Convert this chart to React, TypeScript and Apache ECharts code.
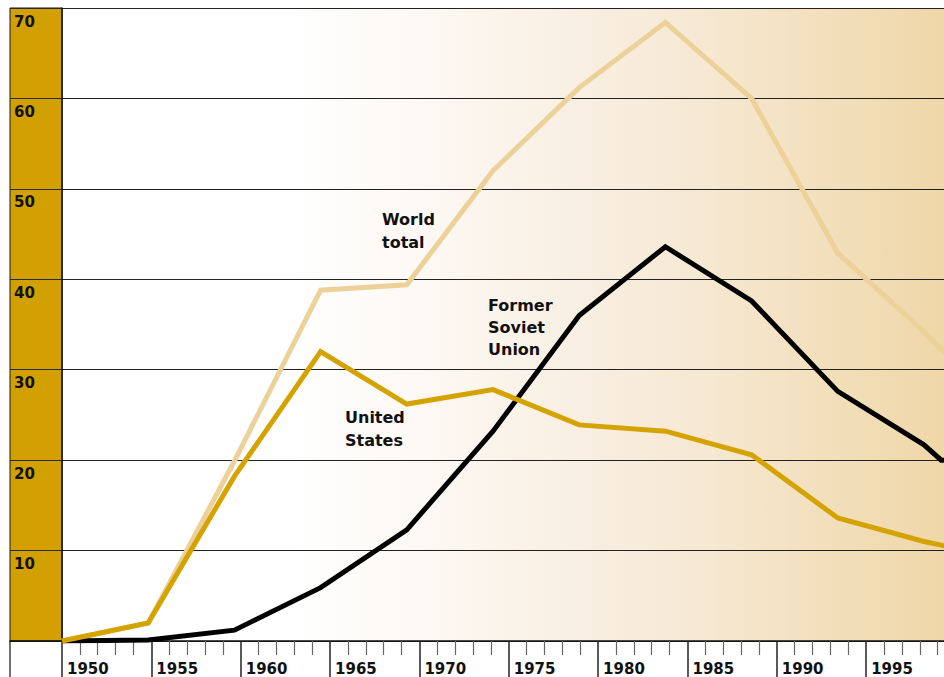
import React, { useEffect, useRef } from 'react';
import * as echarts from 'echarts';

// Data
const dataYears = [1950, 1955, 1960, 1965, 1970, 1975, 1980, 1985, 1990, 1995, 2000, 2001, 2002];
const worldTotal = [0, 2.0, 19.9, 38.8, 39.4, 52.0, 61.2, 68.4, 60.0, 42.9, 34.2, 32.2, 30.8];
const unitedStates = [0, 2.0, 18.2, 32.0, 26.2, 27.8, 23.9, 23.2, 20.6, 13.6, 11.0, 10.6, 10.2];
const formerSovietUnion = [0, 0.1, 1.2, 5.9, 12.3, 23.2, 36.0, 43.6, 37.6, 27.6, 21.7, 20.0, 20.0];
const seriesNames = ['World total', 'United States', 'Former Soviet Union'];
const seriesLabels = ['World\ntotal', 'United\nStates', 'Former\nSoviet\nUnion'];
const yMin = 0;
const yMax = 70;
const yStep = 10;
const tickYearMin = 1950;
const tickYearMax = 2000;
const tickYearStep = 5;

const FONT = '"DejaVu Sans", "Noto Sans", sans-serif';

function pairs(values: number[]) {
  return dataYears.map((y, i) => [y, values[i]]);
}

export default function App() {
  const ref = useRef<HTMLDivElement>(null);
  useEffect(() => {
    if (!ref.current) return;
    const chart = echarts.init(ref.current, undefined, { renderer: 'svg' });
    const mainWidth = 893.5;
    const dataMax = 1950 + (50 * mainWidth) / 862;
    const option: any = {
      animation: false,
      backgroundColor: '#ffffff',
      grid: [
        {
          left: 62,
          top: 8,
          bottom: 36,
          width: mainWidth,
          show: true,
          borderWidth: 0,
          outerBoundsMode: 'none',
          containLabel: false,
          backgroundColor: new echarts.graphic.LinearGradient(0, 0, 1, 0, [
            { offset: 0, color: '#ffffff' },
            { offset: 0.26, color: '#ffffff' },
            { offset: 0.45, color: '#fcf6ef' },
            { offset: 0.6, color: '#f8eee0' },
            { offset: 0.72, color: '#f6e8d2' },
            { offset: 0.86, color: '#f2dfbb' },
            { offset: 1, color: '#efd6a6' },
          ]),
        },
        {
          left: 10,
          top: 8,
          bottom: 36,
          width: 52,
          show: true,
          outerBoundsMode: 'none',
          containLabel: false,
          backgroundColor: '#d2a000',
          borderColor: '#1a1a1a',
          borderWidth: 1,
        },
      ],
      xAxis: [
        {
          type: 'value',
          gridIndex: 0,
          min: tickYearMin,
          max: tickYearMax,
          interval: tickYearStep,
          axisLine: { show: true, lineStyle: { color: '#111', width: 1.5 } },
          axisTick: { show: true, length: 36, lineStyle: { color: '#222', width: 1.5 } },
          minorTick: { show: true, splitNumber: 5, length: 14, lineStyle: { color: '#666', width: 1.2 } },
          splitLine: { show: false },
          minorSplitLine: { show: false },
          axisLabel: {
            margin: 20,
            align: 'left',
            verticalAlign: 'top',
            padding: [0, 0, 0, 5],
            fontSize: 15,
            fontWeight: 'bold',
            fontFamily: FONT,
            color: '#111',
            showMaxLabel: false,
            formatter: (v: number) => String(v),
          },
        },
        {
          type: 'value',
          gridIndex: 0,
          min: 1950,
          max: dataMax,
          show: false,
        },
        {
          type: 'value',
          gridIndex: 1,
          min: 0,
          max: 1,
          axisLine: { show: true, lineStyle: { color: '#111', width: 1.5 } },
          axisTick: { show: false },
          axisLabel: { show: false },
          splitLine: { show: false },
        },
      ],
      yAxis: [
        {
          type: 'value',
          gridIndex: 0,
          min: yMin,
          max: yMax,
          interval: yStep,
          axisLine: { show: true, lineStyle: { color: '#111', width: 1.5 } },
          axisTick: { show: false },
          axisLabel: { show: false },
          splitLine: { show: true, lineStyle: { color: '#222', width: 1 } },
        },
        {
          type: 'value',
          gridIndex: 1,
          min: yMin,
          max: yMax,
          interval: yStep,
          axisLine: { show: false },
          axisTick: { show: false },
          splitLine: { show: true, lineStyle: { color: '#2a2a2a', width: 1 } },
          axisLabel: {
            inside: true,
            margin: 4,
            verticalAlign: 'top',
            padding: [6, 0, 0, 0],
            showMinLabel: false,
            fontSize: 15,
            fontWeight: 'bold',
            fontFamily: FONT,
            color: '#111',
          },
        },
      ],
      series: [
        {
          name: seriesNames[0],
          type: 'line',
          xAxisIndex: 1,
          yAxisIndex: 0,
          data: pairs(worldTotal),
          symbol: 'none',
          lineStyle: { color: '#ecd198', width: 5, join: 'miter' },
          z: 2,
        },
        {
          name: seriesNames[2],
          type: 'line',
          xAxisIndex: 1,
          yAxisIndex: 0,
          data: pairs(formerSovietUnion),
          symbol: 'none',
          lineStyle: { color: '#000000', width: 5, join: 'miter' },
          z: 3,
        },
        {
          name: seriesNames[1],
          type: 'line',
          xAxisIndex: 1,
          yAxisIndex: 0,
          data: pairs(unitedStates),
          symbol: 'none',
          lineStyle: { color: '#d4a300', width: 5, join: 'miter' },
          z: 4,
        },
      ],
      graphic: [
        {
          type: 'line',
          shape: { x1: 10, y1: 641, x2: 10, y2: 677 },
          style: { stroke: '#111', lineWidth: 1.2 },
          z: 10,
        },
        {
          type: 'text',
          left: 382,
          top: 208,
          style: { text: seriesLabels[0], font: `bold 16px ${FONT}`, fill: '#111', lineHeight: 23 },
          z: 10,
        },
        {
          type: 'text',
          left: 345,
          top: 406,
          style: { text: seriesLabels[1], font: `bold 16px ${FONT}`, fill: '#111', lineHeight: 23 },
          z: 10,
        },
        {
          type: 'text',
          left: 488,
          top: 294,
          style: { text: seriesLabels[2], font: `bold 16px ${FONT}`, fill: '#111', lineHeight: 22 },
          z: 10,
        },
      ],
    };
    chart.setOption(option);
    return () => chart.dispose();
  }, []);
  return (
    <div
      ref={ref}
      style={{ position: 'fixed', left: 0, top: 0, width: 944, height: 677, background: '#fff' }}
    />
  );
}
